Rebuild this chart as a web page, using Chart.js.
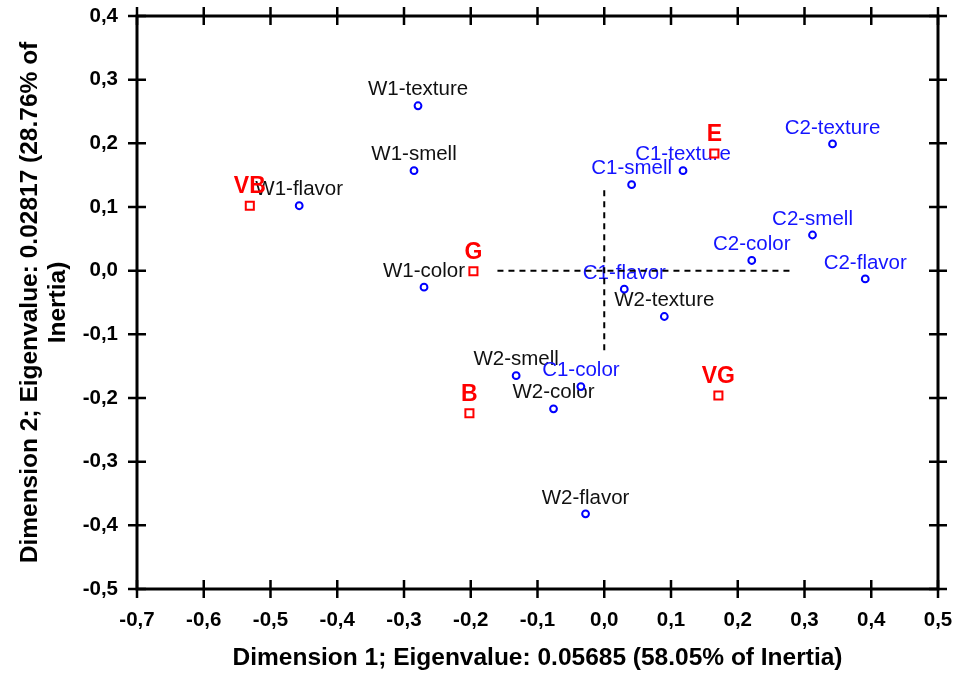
<!DOCTYPE html>
<html>
<head>
<meta charset="utf-8">
<script src="https://cdn.jsdelivr.net/npm/chart.js@4.4.0/dist/chart.umd.min.js"></script>
<style>
  body { margin: 0; background: #fff; }
  canvas { display: block; }
</style>
</head>
<body>
<canvas id="chart" width="953" height="673"></canvas>
<script>
// row points (red squares)
const rowLabels = ["VB", "G", "B", "E", "VG"];
const rowX = [-0.531, -0.196, -0.202, 0.165, 0.171];
const rowY = [0.102, -0.001, -0.224, 0.184, -0.196];

// column points, W group (black labels)
const wLabels = ["W1-texture", "W1-smell", "W1-flavor", "W1-color", "W2-texture", "W2-smell", "W2-color", "W2-flavor"];
const wX = [-0.279, -0.285, -0.457, -0.270, 0.090, -0.132, -0.076, -0.028];
const wY = [0.259, 0.157, 0.102, -0.026, -0.072, -0.165, -0.217, -0.382];

// column points, C group (blue labels)
const cLabels = ["C1-texture", "C1-smell", "C1-flavor", "C1-color", "C2-texture", "C2-smell", "C2-color", "C2-flavor"];
const cX = [0.118, 0.041, 0.030, -0.035, 0.342, 0.312, 0.221, 0.391];
const cY = [0.157, 0.135, -0.029, -0.182, 0.199, 0.056, 0.016, -0.013];

// dashed reference lines
const hLineX = [-0.16, 0.28];
const hLineY = [0, 0];
const vLineX = [0, 0];
const vLineY = [-0.125, 0.13];

const xMin = -0.7, xMax = 0.5, yMin = -0.5, yMax = 0.4, step = 0.1;

const xTitle = "Dimension 1; Eigenvalue: 0.05685 (58.05% of Inertia)";
const yTitle = ["Dimension 2; Eigenvalue: 0.02817 (28.76% of", "Inertia)"];

const fontFamily = "'Liberation Sans', Arial, sans-serif";

function toPoints(xs, ys) {
  return xs.map((x, i) => ({ x: x, y: ys[i] }));
}

function fmt(v) {
  if (Math.abs(v) < 1e-9) v = 0;
  return v.toFixed(1).replace(".", ",");
}

const pointLabels = {
  id: "pointLabels",
  beforeDatasetsDraw(chart) {
    const ctx = chart.ctx;
    ctx.save();
    ctx.textAlign = "center";
    ctx.textBaseline = "middle";
    chart.data.datasets.forEach((ds, i) => {
      if (!ds.labels) return;
      const meta = chart.getDatasetMeta(i);
      ctx.font = ds.labelFont;
      ctx.fillStyle = ds.labelColor;
      meta.data.forEach((el, j) => {
        ctx.fillText(ds.labels[j], el.x, el.y - ds.labelOffset);
      });
    });
    ctx.restore();
  }
};

const frame = {
  id: "frame",
  afterDraw(chart) {
    const ctx = chart.ctx;
    const a = chart.chartArea;
    const xs = chart.scales.x;
    const ys = chart.scales.y;
    ctx.save();
    ctx.strokeStyle = "#000";
    ctx.lineWidth = 2.5;
    ctx.beginPath();
    xs.ticks.forEach((t) => {
      const px = xs.getPixelForValue(t.value);
      ctx.moveTo(px, a.bottom - 9);
      ctx.lineTo(px, a.bottom + 9);
      ctx.moveTo(px, a.top - 9);
      ctx.lineTo(px, a.top + 9);
    });
    ys.ticks.forEach((t) => {
      const py = ys.getPixelForValue(t.value);
      ctx.moveTo(a.left - 9, py);
      ctx.lineTo(a.left + 9, py);
      ctx.moveTo(a.right - 9, py);
      ctx.lineTo(a.right + 9, py);
    });
    ctx.stroke();
    ctx.lineWidth = 3;
    ctx.strokeRect(a.left, a.top, a.right - a.left, a.bottom - a.top);
    ctx.restore();
  }
};

new Chart(document.getElementById("chart"), {
  type: "scatter",
  data: {
    datasets: [
      {
        data: toPoints(hLineX, hLineY),
        type: "line",
        showLine: true,
        borderColor: "#000",
        borderWidth: 2,
        borderDash: [6, 5],
        pointRadius: 0,
        fill: false
      },
      {
        data: toPoints(vLineX, vLineY),
        type: "line",
        showLine: true,
        borderColor: "#000",
        borderWidth: 2,
        borderDash: [6, 5],
        pointRadius: 0,
        fill: false
      },
      {
        data: toPoints(wX, wY),
        labels: wLabels,
        labelColor: "#111",
        labelFont: "20.5px " + fontFamily,
        labelOffset: 16,
        pointStyle: "circle",
        pointRadius: 3.4,
        borderWidth: 2,
        borderColor: "#0000ff",
        backgroundColor: "#fff"
      },
      {
        data: toPoints(cX, cY),
        labels: cLabels,
        labelColor: "#1414ff",
        labelFont: "20.5px " + fontFamily,
        labelOffset: 16,
        pointStyle: "circle",
        pointRadius: 3.4,
        borderWidth: 2,
        borderColor: "#0000ff",
        backgroundColor: "#fff"
      },
      {
        data: toPoints(rowX, rowY),
        labels: rowLabels,
        labelColor: "#ff0000",
        labelFont: "bold 23px " + fontFamily,
        labelOffset: 19,
        pointStyle: "rect",
        pointRadius: 5.7,
        borderWidth: 2,
        borderColor: "#ff0000",
        backgroundColor: "#fff"
      }
    ]
  },
  options: {
    responsive: false,
    animation: false,
    devicePixelRatio: 1,
    layout: { padding: { top: 16, right: 15, left: 0, bottom: 0 } },
    plugins: {
      legend: { display: false },
      tooltip: { enabled: false }
    },
    scales: {
      x: {
        type: "linear",
        min: xMin,
        max: xMax,
        border: { display: false },
        grid: { display: false, drawTicks: false },
        ticks: {
          stepSize: step,
          color: "#000",
          padding: 19,
          maxRotation: 0,
          font: { family: fontFamily, size: 20.5, weight: "bold" },
          callback: (v) => fmt(v)
        },
        title: {
          display: true,
          text: xTitle,
          color: "#000",
          padding: { top: 0, bottom: 0 },
          font: { family: fontFamily, size: 24.5, weight: "bold", lineHeight: 1.2 }
        },
        afterFit: (s) => {
          s.height = 84;
          s.paddingLeft = 0;
          s.paddingRight = 0;
        }
      },
      y: {
        type: "linear",
        min: yMin,
        max: yMax,
        border: { display: false },
        grid: { display: false, drawTicks: false },
        ticks: {
          stepSize: step,
          color: "#000",
          padding: 19,
          font: { family: fontFamily, size: 20.5, weight: "bold" },
          callback: (v) => fmt(v)
        },
        title: {
          display: true,
          text: yTitle,
          color: "#000",
          padding: { top: 16, bottom: 0 },
          font: { family: fontFamily, size: 24.5, weight: "bold", lineHeight: 1.15 }
        },
        afterFit: (s) => {
          s.width = 137;
          s.paddingTop = 0;
          s.paddingBottom = 0;
        }
      }
    }
  },
  plugins: [pointLabels, frame]
});
</script>
</body>
</html>
